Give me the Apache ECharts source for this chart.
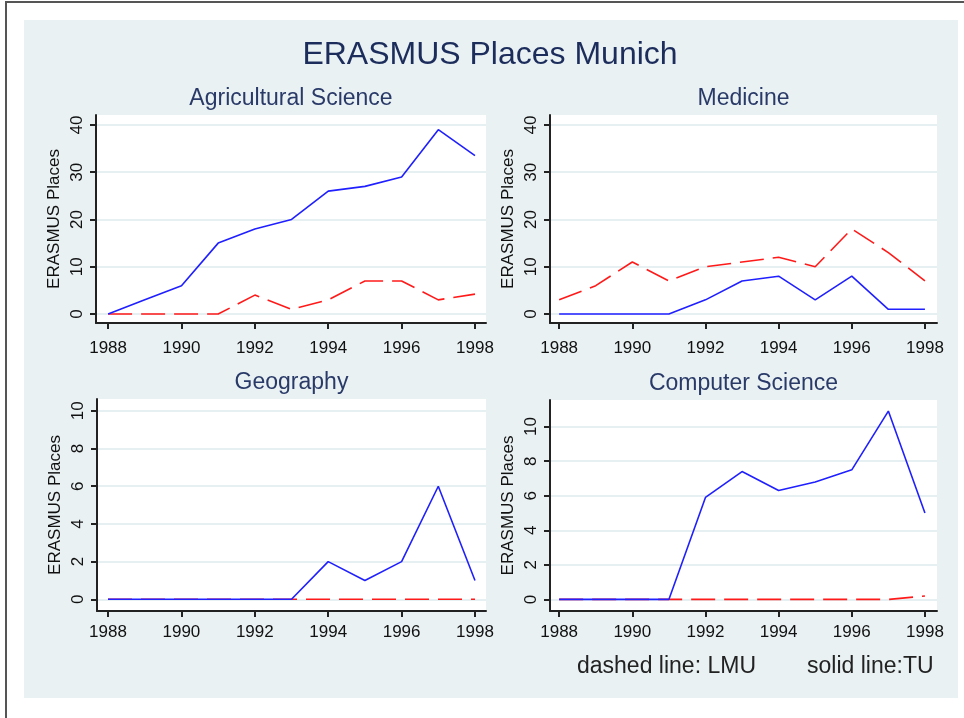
<!DOCTYPE html>
<html>
<head>
<meta charset="utf-8">
<script src="https://cdn.jsdelivr.net/npm/echarts@6/dist/echarts.min.js"></script>
<style>
  html, body { margin: 0; padding: 0; background: #fff; }
  #chart { width: 964px; height: 718px; }
</style>
</head>
<body>
<div id="chart"></div>
<script>
// data
const years = [1988, 1989, 1990, 1991, 1992, 1993, 1994, 1995, 1996, 1997, 1998];
const agriTU  = [0, 3, 6, 15, 18, 20, 26, 27, 29, 39, 33.5];
const agriLMU = [0, 0, 0, 0, 4, 1, 3, 7, 7, 3, 4.2];
const medTU   = [0, 0, 0, 0, 3, 7, 8, 3, 8, 1, 1];
const medLMU  = [3, 6, 11, 7, 10, 11, 12, 10, 18, 13, 7];
const geoTU   = [0, 0, 0, 0, 0, 0, 2, 1, 2, 6, 1];
const geoLMU  = [0, 0, 0, 0, 0, 0, 0, 0, 0, 0, 0];
const csTU    = [0, 0, 0, 0, 5.9, 7.4, 6.3, 6.8, 7.5, 10.9, 5.0];
const csLMU   = [0, 0, 0, 0, 0, 0, 0, 0, 0, 0, 0.2];

const xTicks = [1988, 1990, 1992, 1994, 1996, 1998];
const yTicksBig = [0, 10, 20, 30, 40];
const yTicksSmall = [0, 2, 4, 6, 8, 10];

const titles = ["Agricultural Science", "Medicine", "Geography", "Computer Science"];

// layout of the four panels
const panels = [
  { left: 96,  top: 115, width: 390, height: 208, xmin: 1987.67, xmax: 1998.30, ymin: -1.9, ymax: 42.1, ticks: yTicksBig,   lblGap: 17, tu: agriTU, lmu: agriLMU },
  { left: 550, top: 115, width: 387, height: 208, xmin: 1987.75, xmax: 1998.33, ymin: -1.9, ymax: 42.1, ticks: yTicksBig,   lblGap: 17, tu: medTU,  lmu: medLMU },
  { left: 97,  top: 399, width: 389, height: 212, xmin: 1987.70, xmax: 1998.30, ymin: -0.62, ymax: 10.63, ticks: yTicksSmall, lblGap: 13, tu: geoTU,  lmu: geoLMU },
  { left: 550, top: 400, width: 387, height: 211, xmin: 1987.75, xmax: 1998.33, ymin: -0.67, ymax: 11.54, ticks: yTicksSmall, lblGap: 13, tu: csTU,   lmu: csLMU }
];

const font = "Liberation Sans";
const navy = "#1c2d5c";

function pairs(vals) {
  return years.map((y, i) => [y, vals[i]]);
}

const grid = [], xAxis = [], yAxis = [], series = [], title = [];

title.push({
  text: "ERASMUS Places Munich",
  left: 490, top: 39, textAlign: "center", padding: 0,
  textStyle: { fontFamily: font, fontSize: 32, fontWeight: "normal", color: navy }
});

panels.forEach((p, i) => {
  grid.push({
    left: p.left, top: p.top, width: p.width, height: p.height,
    show: true, backgroundColor: "#fff", borderWidth: 0
  });
  title.push({
    text: titles[i],
    left: p.left + p.width / 2, top: p.top - 28, textAlign: "center", padding: 0,
    textStyle: { fontFamily: font, fontSize: 23, fontWeight: "normal", color: "#2a3a68" }
  });
  xAxis.push({
    type: "value", gridIndex: i, min: p.xmin, max: p.xmax,
    axisLine: { show: true, onZero: false, lineStyle: { color: "#222", width: 2 } },
    axisTick: { show: true, length: 6, customValues: xTicks, lineStyle: { color: "#222", width: 2 } },
    axisLabel: { customValues: xTicks, margin: p.lblGap, formatter: v => String(v), fontFamily: font, fontSize: 17, color: "#111" },
    splitLine: { show: false }
  });
  yAxis.push({
    type: "value", gridIndex: i, min: p.ymin, max: p.ymax,
    name: "ERASMUS Places", nameLocation: "middle", nameRotate: 90, nameGap: 33,
    nameTextStyle: { fontFamily: font, fontSize: 17, color: "#111" },
    axisLine: { show: true, onZero: false, lineStyle: { color: "#222", width: 2 } },
    axisTick: { show: true, length: 6, customValues: p.ticks, lineStyle: { color: "#222", width: 2 } },
    axisLabel: { customValues: p.ticks, rotate: 90, margin: 10, fontFamily: font, fontSize: 17, color: "#111" },
    splitLine: { show: true, lineStyle: { color: "#e6eff1", width: 2 } }
  });
  series.push({
    name: "LMU", type: "line", xAxisIndex: i, yAxisIndex: i,
    data: pairs(p.lmu), symbol: "none", silent: true,
    lineStyle: { color: "#ff1a1a", width: 1.6, type: [24, 9] }
  });
  series.push({
    name: "TU", type: "line", xAxisIndex: i, yAxisIndex: i,
    data: pairs(p.tu), symbol: "none", silent: true,
    lineStyle: { color: "#2020ff", width: 1.6 }
  });
});

const chart = echarts.init(document.getElementById("chart"), null, { renderer: "canvas" });
chart.setOption({
  backgroundColor: "#fff",
  animation: false,
  title: title,
  grid: grid,
  xAxis: xAxis,
  yAxis: yAxis,
  series: series,
  graphic: [
    { type: "rect", z: -10, shape: { x: 24, y: 20, width: 934, height: 678 }, style: { fill: "#e9f1f3" } },
    { type: "line", z: -5, shape: { x1: 6, y1: 2, x2: 964, y2: 2 }, style: { stroke: "#555", lineWidth: 2 } },
    { type: "line", z: -5, shape: { x1: 6, y1: 1, x2: 6, y2: 718 }, style: { stroke: "#555", lineWidth: 2 } },
    { type: "text", left: 577, top: 655, style: { text: "dashed line: LMU", fontFamily: font, fontSize: 23, fill: "#222" } },
    { type: "text", left: 807, top: 655, style: { text: "solid line:TU", fontFamily: font, fontSize: 23, fill: "#222" } }
  ]
});
</script>
</body>
</html>
